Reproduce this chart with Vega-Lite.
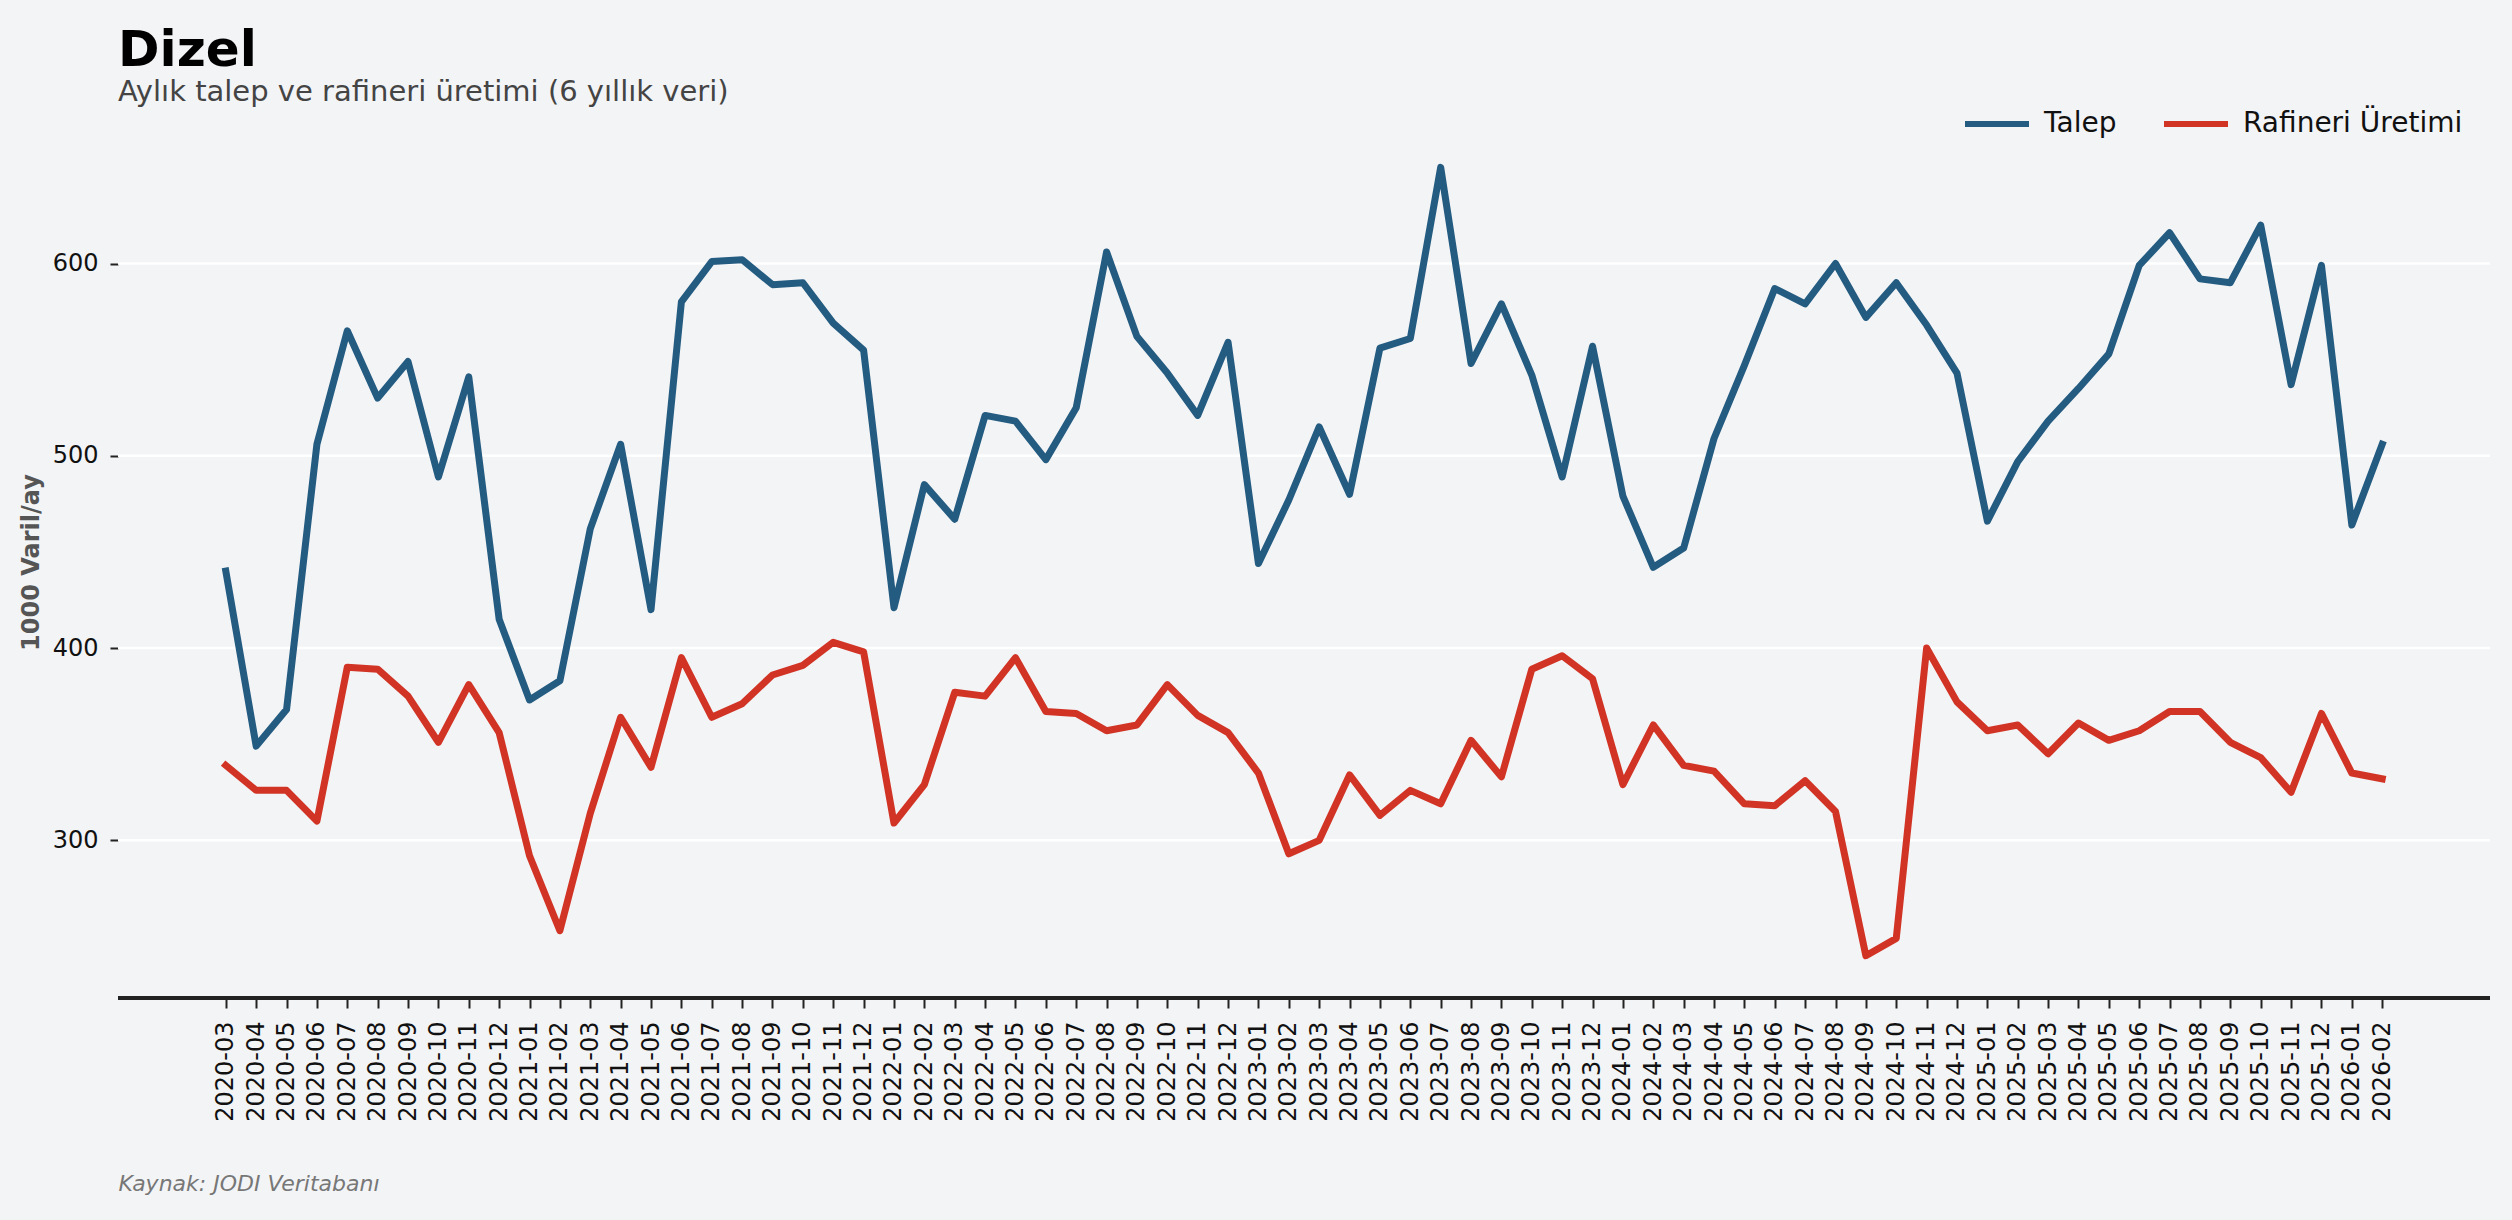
{
  "$schema": "https://vega.github.io/schema/vega-lite/v6.json",
  "width": 2372,
  "height": 871,
  "autosize": {"type": "none"},
  "padding": {"left": 118, "top": 127, "right": 22, "bottom": 222},
  "background": "#F3F4F6",
  "title": {
    "text": "Dizel",
    "subtitle": "Aylık talep ve rafineri üretimi (6 yıllık veri)",
    "anchor": "start",
    "frame": "group",
    "font": "DejaVu Sans",
    "fontSize": 50,
    "fontWeight": "bold",
    "color": "#000000",
    "subtitleFont": "DejaVu Sans",
    "subtitleFontSize": 29,
    "subtitleColor": "#444444",
    "subtitlePadding": 2,
    "offset": -18
  },
  "config": {
    "view": {"stroke": null, "fill": "#F3F4F6"},
    "font": "DejaVu Sans"
  },
  "data": {
    "values": [
      {"ay": "2020-03", "seri": "Talep", "deger": 440},
      {"ay": "2020-04", "seri": "Talep", "deger": 349},
      {"ay": "2020-05", "seri": "Talep", "deger": 368},
      {"ay": "2020-06", "seri": "Talep", "deger": 506},
      {"ay": "2020-07", "seri": "Talep", "deger": 565},
      {"ay": "2020-08", "seri": "Talep", "deger": 530},
      {"ay": "2020-09", "seri": "Talep", "deger": 549},
      {"ay": "2020-10", "seri": "Talep", "deger": 489},
      {"ay": "2020-11", "seri": "Talep", "deger": 541},
      {"ay": "2020-12", "seri": "Talep", "deger": 415},
      {"ay": "2021-01", "seri": "Talep", "deger": 373},
      {"ay": "2021-02", "seri": "Talep", "deger": 383},
      {"ay": "2021-03", "seri": "Talep", "deger": 462},
      {"ay": "2021-04", "seri": "Talep", "deger": 506},
      {"ay": "2021-05", "seri": "Talep", "deger": 420},
      {"ay": "2021-06", "seri": "Talep", "deger": 580},
      {"ay": "2021-07", "seri": "Talep", "deger": 601},
      {"ay": "2021-08", "seri": "Talep", "deger": 602},
      {"ay": "2021-09", "seri": "Talep", "deger": 589},
      {"ay": "2021-10", "seri": "Talep", "deger": 590},
      {"ay": "2021-11", "seri": "Talep", "deger": 569},
      {"ay": "2021-12", "seri": "Talep", "deger": 555},
      {"ay": "2022-01", "seri": "Talep", "deger": 421},
      {"ay": "2022-02", "seri": "Talep", "deger": 485},
      {"ay": "2022-03", "seri": "Talep", "deger": 467},
      {"ay": "2022-04", "seri": "Talep", "deger": 521},
      {"ay": "2022-05", "seri": "Talep", "deger": 518},
      {"ay": "2022-06", "seri": "Talep", "deger": 498},
      {"ay": "2022-07", "seri": "Talep", "deger": 525},
      {"ay": "2022-08", "seri": "Talep", "deger": 606},
      {"ay": "2022-09", "seri": "Talep", "deger": 562},
      {"ay": "2022-10", "seri": "Talep", "deger": 543},
      {"ay": "2022-11", "seri": "Talep", "deger": 521},
      {"ay": "2022-12", "seri": "Talep", "deger": 559},
      {"ay": "2023-01", "seri": "Talep", "deger": 444},
      {"ay": "2023-02", "seri": "Talep", "deger": 477},
      {"ay": "2023-03", "seri": "Talep", "deger": 515},
      {"ay": "2023-04", "seri": "Talep", "deger": 480},
      {"ay": "2023-05", "seri": "Talep", "deger": 556},
      {"ay": "2023-06", "seri": "Talep", "deger": 561},
      {"ay": "2023-07", "seri": "Talep", "deger": 650},
      {"ay": "2023-08", "seri": "Talep", "deger": 548},
      {"ay": "2023-09", "seri": "Talep", "deger": 579},
      {"ay": "2023-10", "seri": "Talep", "deger": 542},
      {"ay": "2023-11", "seri": "Talep", "deger": 489},
      {"ay": "2023-12", "seri": "Talep", "deger": 557},
      {"ay": "2024-01", "seri": "Talep", "deger": 479},
      {"ay": "2024-02", "seri": "Talep", "deger": 442},
      {"ay": "2024-03", "seri": "Talep", "deger": 452},
      {"ay": "2024-04", "seri": "Talep", "deger": 509},
      {"ay": "2024-05", "seri": "Talep", "deger": 547},
      {"ay": "2024-06", "seri": "Talep", "deger": 587},
      {"ay": "2024-07", "seri": "Talep", "deger": 579},
      {"ay": "2024-08", "seri": "Talep", "deger": 600},
      {"ay": "2024-09", "seri": "Talep", "deger": 572},
      {"ay": "2024-10", "seri": "Talep", "deger": 590},
      {"ay": "2024-11", "seri": "Talep", "deger": 568},
      {"ay": "2024-12", "seri": "Talep", "deger": 543},
      {"ay": "2025-01", "seri": "Talep", "deger": 466},
      {"ay": "2025-02", "seri": "Talep", "deger": 497},
      {"ay": "2025-03", "seri": "Talep", "deger": 518},
      {"ay": "2025-04", "seri": "Talep", "deger": 535},
      {"ay": "2025-05", "seri": "Talep", "deger": 553},
      {"ay": "2025-06", "seri": "Talep", "deger": 599},
      {"ay": "2025-07", "seri": "Talep", "deger": 616},
      {"ay": "2025-08", "seri": "Talep", "deger": 592},
      {"ay": "2025-09", "seri": "Talep", "deger": 590},
      {"ay": "2025-10", "seri": "Talep", "deger": 620},
      {"ay": "2025-11", "seri": "Talep", "deger": 537},
      {"ay": "2025-12", "seri": "Talep", "deger": 599},
      {"ay": "2026-01", "seri": "Talep", "deger": 464},
      {"ay": "2026-02", "seri": "Talep", "deger": 506},
      {"ay": "2020-03", "seri": "Rafineri Üretimi", "deger": 339},
      {"ay": "2020-04", "seri": "Rafineri Üretimi", "deger": 326},
      {"ay": "2020-05", "seri": "Rafineri Üretimi", "deger": 326},
      {"ay": "2020-06", "seri": "Rafineri Üretimi", "deger": 310},
      {"ay": "2020-07", "seri": "Rafineri Üretimi", "deger": 390},
      {"ay": "2020-08", "seri": "Rafineri Üretimi", "deger": 389},
      {"ay": "2020-09", "seri": "Rafineri Üretimi", "deger": 375},
      {"ay": "2020-10", "seri": "Rafineri Üretimi", "deger": 351},
      {"ay": "2020-11", "seri": "Rafineri Üretimi", "deger": 381},
      {"ay": "2020-12", "seri": "Rafineri Üretimi", "deger": 356},
      {"ay": "2021-01", "seri": "Rafineri Üretimi", "deger": 292},
      {"ay": "2021-02", "seri": "Rafineri Üretimi", "deger": 253},
      {"ay": "2021-03", "seri": "Rafineri Üretimi", "deger": 314},
      {"ay": "2021-04", "seri": "Rafineri Üretimi", "deger": 364},
      {"ay": "2021-05", "seri": "Rafineri Üretimi", "deger": 338},
      {"ay": "2021-06", "seri": "Rafineri Üretimi", "deger": 395},
      {"ay": "2021-07", "seri": "Rafineri Üretimi", "deger": 364},
      {"ay": "2021-08", "seri": "Rafineri Üretimi", "deger": 371},
      {"ay": "2021-09", "seri": "Rafineri Üretimi", "deger": 386},
      {"ay": "2021-10", "seri": "Rafineri Üretimi", "deger": 391},
      {"ay": "2021-11", "seri": "Rafineri Üretimi", "deger": 403},
      {"ay": "2021-12", "seri": "Rafineri Üretimi", "deger": 398},
      {"ay": "2022-01", "seri": "Rafineri Üretimi", "deger": 309},
      {"ay": "2022-02", "seri": "Rafineri Üretimi", "deger": 329},
      {"ay": "2022-03", "seri": "Rafineri Üretimi", "deger": 377},
      {"ay": "2022-04", "seri": "Rafineri Üretimi", "deger": 375},
      {"ay": "2022-05", "seri": "Rafineri Üretimi", "deger": 395},
      {"ay": "2022-06", "seri": "Rafineri Üretimi", "deger": 367},
      {"ay": "2022-07", "seri": "Rafineri Üretimi", "deger": 366},
      {"ay": "2022-08", "seri": "Rafineri Üretimi", "deger": 357},
      {"ay": "2022-09", "seri": "Rafineri Üretimi", "deger": 360},
      {"ay": "2022-10", "seri": "Rafineri Üretimi", "deger": 381},
      {"ay": "2022-11", "seri": "Rafineri Üretimi", "deger": 365},
      {"ay": "2022-12", "seri": "Rafineri Üretimi", "deger": 356},
      {"ay": "2023-01", "seri": "Rafineri Üretimi", "deger": 335},
      {"ay": "2023-02", "seri": "Rafineri Üretimi", "deger": 293},
      {"ay": "2023-03", "seri": "Rafineri Üretimi", "deger": 300},
      {"ay": "2023-04", "seri": "Rafineri Üretimi", "deger": 334},
      {"ay": "2023-05", "seri": "Rafineri Üretimi", "deger": 313},
      {"ay": "2023-06", "seri": "Rafineri Üretimi", "deger": 326},
      {"ay": "2023-07", "seri": "Rafineri Üretimi", "deger": 319},
      {"ay": "2023-08", "seri": "Rafineri Üretimi", "deger": 352},
      {"ay": "2023-09", "seri": "Rafineri Üretimi", "deger": 333},
      {"ay": "2023-10", "seri": "Rafineri Üretimi", "deger": 389},
      {"ay": "2023-11", "seri": "Rafineri Üretimi", "deger": 396},
      {"ay": "2023-12", "seri": "Rafineri Üretimi", "deger": 384},
      {"ay": "2024-01", "seri": "Rafineri Üretimi", "deger": 329},
      {"ay": "2024-02", "seri": "Rafineri Üretimi", "deger": 360},
      {"ay": "2024-03", "seri": "Rafineri Üretimi", "deger": 339},
      {"ay": "2024-04", "seri": "Rafineri Üretimi", "deger": 336},
      {"ay": "2024-05", "seri": "Rafineri Üretimi", "deger": 319},
      {"ay": "2024-06", "seri": "Rafineri Üretimi", "deger": 318},
      {"ay": "2024-07", "seri": "Rafineri Üretimi", "deger": 331},
      {"ay": "2024-08", "seri": "Rafineri Üretimi", "deger": 315},
      {"ay": "2024-09", "seri": "Rafineri Üretimi", "deger": 240},
      {"ay": "2024-10", "seri": "Rafineri Üretimi", "deger": 249},
      {"ay": "2024-11", "seri": "Rafineri Üretimi", "deger": 400},
      {"ay": "2024-12", "seri": "Rafineri Üretimi", "deger": 372},
      {"ay": "2025-01", "seri": "Rafineri Üretimi", "deger": 357},
      {"ay": "2025-02", "seri": "Rafineri Üretimi", "deger": 360},
      {"ay": "2025-03", "seri": "Rafineri Üretimi", "deger": 345},
      {"ay": "2025-04", "seri": "Rafineri Üretimi", "deger": 361},
      {"ay": "2025-05", "seri": "Rafineri Üretimi", "deger": 352},
      {"ay": "2025-06", "seri": "Rafineri Üretimi", "deger": 357},
      {"ay": "2025-07", "seri": "Rafineri Üretimi", "deger": 367},
      {"ay": "2025-08", "seri": "Rafineri Üretimi", "deger": 367},
      {"ay": "2025-09", "seri": "Rafineri Üretimi", "deger": 351},
      {"ay": "2025-10", "seri": "Rafineri Üretimi", "deger": 343},
      {"ay": "2025-11", "seri": "Rafineri Üretimi", "deger": 325},
      {"ay": "2025-12", "seri": "Rafineri Üretimi", "deger": 366},
      {"ay": "2026-01", "seri": "Rafineri Üretimi", "deger": 335},
      {"ay": "2026-02", "seri": "Rafineri Üretimi", "deger": 332}
    ]
  },
  "layer": [
    {
      "data": {"values": [{"izgara": 300}, {"izgara": 400}, {"izgara": 500}, {"izgara": 600}]},
      "mark": {"type": "rule", "color": "#FFFFFF", "strokeWidth": 2.5},
      "encoding": {
        "y": {"field": "izgara", "type": "quantitative"}
      }
    },
    {
      "mark": {"type": "rule", "color": "#222222", "strokeWidth": 3},
      "encoding": {
        "y": {"datum": 218, "type": "quantitative"}
      }
    },
    {
      "mark": {"type": "line", "strokeWidth": 7, "strokeJoin": "round", "strokeCap": "square"},
      "encoding": {
        "y": {
          "field": "deger",
          "type": "quantitative",
          "scale": {"domain": [218, 671], "nice": false, "zero": false},
          "axis": {
            "title": "1000 Varil/ay",
            "titleFont": "DejaVu Sans",
            "titleFontWeight": "bold",
            "titleFontSize": 24,
            "titleColor": "#555555",
            "titleAngle": 270,
            "titleX": -80,
            "titleY": 435,
            "titleAlign": "center",
            "titleBaseline": "alphabetic",
            "values": [300, 400, 500, 600],
            "domain": false,
            "grid": false,
            "tickSize": 8,
            "tickWidth": 2,
            "tickColor": "#222222",
            "labelFont": "DejaVu Sans",
            "labelFontSize": 24,
            "labelColor": "#111111",
            "labelPadding": 12
          }
        },
        "x": {
          "field": "ay",
          "type": "ordinal",
          "sort": null,
          "scale": {"type": "point", "padding": 0, "range": [107.8, 2264.2]},
          "axis": {
            "title": "Kaynak: JODI Veritabanı",
            "titleFont": "DejaVu Sans",
            "titleFontStyle": "italic",
            "titleFontWeight": "normal",
            "titleFontSize": 22,
            "titleColor": "#777777",
            "titleX": 0,
            "titleY": 192,
            "titleAlign": "left",
            "titleAngle": 0,
            "titleBaseline": "alphabetic",
            "labelAngle": 270,
            "labelFont": "DejaVu Sans",
            "labelFontSize": 24,
            "labelColor": "#111111",
            "labelPadding": 13,
            "labelOverlap": false,
            "tickSize": 10,
            "tickWidth": 2,
            "tickColor": "#222222",
            "domain": false,
            "grid": false
          }
        },
        "color": {
          "field": "seri",
          "type": "nominal",
          "sort": ["Talep", "Rafineri Üretimi"],
          "scale": {"domain": ["Talep", "Rafineri Üretimi"], "range": ["#245B80", "#D13425"]},
          "legend": {
            "title": null,
            "orient": "none",
            "legendX": 1844,
            "legendY": -38,
            "direction": "horizontal",
            "symbolType": "stroke",
            "symbolSize": 4096,
            "symbolStrokeWidth": 6,
            "labelFont": "DejaVu Sans",
            "labelFontSize": 28,
            "labelColor": "#111111",
            "labelLimit": 500,
            "labelOffset": 12,
            "columnPadding": 35,
            "padding": 0
          }
        }
      }
    }
  ]
}
